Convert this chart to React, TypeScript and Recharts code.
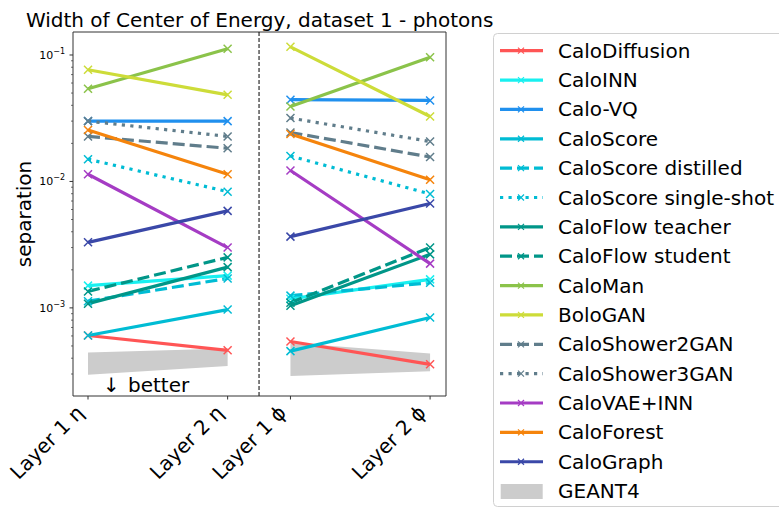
import React from "react";
import { ComposedChart, Line, Area, XAxis, YAxis, ReferenceLine } from "recharts";

// tick labels, one per column
const layers = ["Layer 1 η", "Layer 2 η", "Layer 1 ϕ", "Layer 2 ϕ"];

// separation per column: Layer 1 η, Layer 2 η, Layer 1 ϕ, Layer 2 ϕ
const caloDiffusion = [6.05e-4, 4.62e-4, 5.42e-4, 3.58e-4];
const caloINN = [1.5e-3, 1.8e-3, 1.18e-3, 1.68e-3];
const caloVQ = [3.0e-2, 3.0e-2, 4.43e-2, 4.37e-2];
const caloScore = [6.05e-4, 9.7e-4, 4.55e-4, 8.4e-4];
const caloScoreDistilled = [1.13e-3, 1.71e-3, 1.25e-3, 1.58e-3];
const caloScoreSingleShot = [1.5e-2, 8.3e-3, 1.59e-2, 7.96e-3];
const caloFlowTeacher = [1.08e-3, 2.1e-3, 1.04e-3, 2.65e-3];
const caloFlowStudent = [1.35e-3, 2.51e-3, 1.1e-3, 3.0e-3];
const caloMan = [5.4e-2, 1.12e-1, 3.92e-2, 9.6e-2];
const boloGAN = [7.65e-2, 4.84e-2, 1.16e-1, 3.26e-2];
const caloShower2GAN = [2.27e-2, 1.83e-2, 2.44e-2, 1.56e-2];
const caloShower3GAN = [3.0e-2, 2.27e-2, 3.17e-2, 2.07e-2];
const caloVAEINN = [1.14e-2, 3.0e-3, 1.22e-2, 2.24e-3];
const caloForest = [2.55e-2, 1.14e-2, 2.37e-2, 1.03e-2];
const caloGraph = [3.3e-3, 5.85e-3, 3.66e-3, 6.7e-3];
const geant4Low = [2.96e-4, 3.47e-4, 2.89e-4, 3.15e-4];
const geant4High = [4.43e-4, 4.77e-4, 5.3e-4, 4.35e-4];

const DASHED = "12 5";
const DOTTED = "3.2 5.3";

type Series = { name: string; values: number[]; color: string; dash?: string };

const series: Series[] = [
  { name: "CaloDiffusion", values: caloDiffusion, color: "#ff5555" },
  { name: "CaloINN", values: caloINN, color: "#18f0f0" },
  { name: "Calo-VQ", values: caloVQ, color: "#2090ee" },
  { name: "CaloScore", values: caloScore, color: "#00bcd4" },
  { name: "CaloScore distilled", values: caloScoreDistilled, color: "#00bcd4", dash: DASHED },
  { name: "CaloScore single-shot", values: caloScoreSingleShot, color: "#00bcd4", dash: DOTTED },
  { name: "CaloFlow teacher", values: caloFlowTeacher, color: "#009688" },
  { name: "CaloFlow student", values: caloFlowStudent, color: "#009688", dash: DASHED },
  { name: "CaloMan", values: caloMan, color: "#8bc34a" },
  { name: "BoloGAN", values: boloGAN, color: "#cddc39" },
  { name: "CaloShower2GAN", values: caloShower2GAN, color: "#607d8b", dash: DASHED },
  { name: "CaloShower3GAN", values: caloShower3GAN, color: "#607d8b", dash: DOTTED },
  { name: "CaloVAE+INN", values: caloVAEINN, color: "#a53cc4" },
  { name: "CaloForest", values: caloForest, color: "#f5840c" },
  { name: "CaloGraph", values: caloGraph, color: "#3a48a8" },
];

// layout of the x axis (two panels, split by a dashed line)
const layerX = [0, 1, 1.45, 2.45];
const SPLIT_X = 1.225;
const X_DOMAIN: [number, number] = [-0.1075, 2.564];
const Y_DOMAIN: [number, number] = [2.01e-4, 0.152];

const rows: any[] = [];
layers.forEach((_, i) => {
  if (i === 2) {
    const gap: any = { x: SPLIT_X, geant4: null };
    series.forEach((_s, k) => (gap[`s${k}`] = null));
    rows.push(gap);
  }
  const row: any = { x: layerX[i], geant4: [geant4Low[i], geant4High[i]] };
  series.forEach((s, k) => (row[`s${k}`] = s.values[i]));
  rows.push(row);
});

const yTicks: number[] = [];
for (let e = -4; e <= -1; e++) {
  for (let m = 1; m <= 9; m++) {
    const v = m * Math.pow(10, e);
    if (v >= Y_DOMAIN[0] && v <= Y_DOMAIN[1]) yTicks.push(v);
  }
}

const FONT = "'DejaVu Sans', sans-serif";
const AXIS = "#333";

const crossDot = (color: string) => (props: any) => {
  const { cx, cy, index } = props;
  if (cx == null || cy == null || isNaN(cx) || isNaN(cy)) return <g key={`n-${index}`} />;
  const r = 4;
  return (
    <path
      key={`d-${index}`}
      d={`M${cx - r},${cy - r}L${cx + r},${cy + r}M${cx - r},${cy + r}L${cx + r},${cy - r}`}
      stroke={color}
      strokeWidth={1.5}
      fill="none"
    />
  );
};

const XTick = (props: any) => {
  const { x, y, payload } = props;
  const idx = layerX.indexOf(payload.value);
  const ax = x - 3;
  const ay = y + 18;
  return (
    <g>
      <line x1={x} x2={x} y1={y} y2={y + 3.5} stroke={AXIS} strokeWidth={1} />
      <text
        x={ax}
        y={ay}
        textAnchor="end"
        transform={`rotate(-45 ${ax} ${ay})`}
        fontSize={20}
        fontFamily={FONT}
        fill="#000"
      >
        {layers[idx]}
      </text>
    </g>
  );
};

const YTick = (props: any) => {
  const { x, y, payload } = props;
  const lg = Math.log10(payload.value);
  const exp = Math.round(lg);
  const major = Math.abs(lg - exp) < 1e-6;
  return (
    <g>
      <line x1={x - (major ? 3.5 : 2)} x2={x} y1={y} y2={y} stroke={AXIS} strokeWidth={major ? 1 : 0.7} />
      {major && (
        <text x={x - 8} y={y + 4} textAnchor="end" fontSize={11} fontFamily={FONT} fill="#000">
          <tspan>10</tspan>
          <tspan dy={-5} fontSize={8}>{`−${-exp}`}</tspan>
        </text>
      )}
    </g>
  );
};

const LEG_X = 500;
const LEG_Y0 = 50.7;
const LEG_STEP = 29.36;

function LegendBox() {
  return (
    <g fontFamily={FONT}>
      <rect x={493.5} y={33.5} width={320} height={473} rx={4} fill="#fff" stroke="#d0d0d0" />
      {series.map((s, i) => {
        const cy = LEG_Y0 + i * LEG_STEP;
        const cx = LEG_X + 21;
        return (
          <g key={s.name}>
            <line x1={LEG_X} x2={LEG_X + 43} y1={cy} y2={cy} stroke={s.color} strokeWidth={3.2} strokeDasharray={s.dash} />
            <path d={`M${cx - 3},${cy - 3}L${cx + 3},${cy + 3}M${cx - 3},${cy + 3}L${cx + 3},${cy - 3}`} stroke={s.color} strokeWidth={1.2} />
            <text x={558} y={cy + 7} fontSize={20} fill="#000">{s.name}</text>
          </g>
        );
      })}
      <rect x={500.7} y={484} width={42} height={15} fill="#cccccc" />
      <text x={558} y={LEG_Y0 + 15 * LEG_STEP + 7} fontSize={20} fill="#000">GEANT4</text>
    </g>
  );
}

export default function App() {
  return (
    <div style={{ position: "absolute", left: 0, top: 0, width: 779, height: 509, background: "#fff", fontFamily: FONT }}>
      <ComposedChart width={779} height={509} data={rows} margin={{ top: 32, right: 333, bottom: 0, left: 0 }}>
        <XAxis
          dataKey="x"
          type="number"
          domain={X_DOMAIN}
          allowDataOverflow
          ticks={layerX}
          interval={0}
          height={113}
          tickSize={0}
          tickMargin={0}
          tickLine={false}
          stroke={AXIS}
          tick={<XTick />}
        />
        <YAxis
          type="number"
          scale="log"
          domain={Y_DOMAIN}
          allowDataOverflow
          ticks={yTicks}
          interval={0}
          width={73}
          tickSize={0}
          tickMargin={0}
          tickLine={false}
          stroke={AXIS}
          tick={<YTick />}
          label={{ value: "separation", angle: -90, position: "insideLeft", offset: 24, style: { fontSize: 20, fontFamily: FONT, fill: "#000", textAnchor: "middle" } }}
        />
        <ReferenceLine y={Y_DOMAIN[1]} stroke={AXIS} ifOverflow="extendDomain" />
        <ReferenceLine x={X_DOMAIN[1]} stroke={AXIS} />
        <ReferenceLine x={SPLIT_X} stroke="#000" strokeDasharray="4 2" />
        <Area
          dataKey="geant4"
          stroke="none"
          fill="#cccccc"
          fillOpacity={1}
          isAnimationActive={false}
          activeDot={false}
          dot={false}
        />
        {series.map((s, k) => (
          <Line
            key={s.name}
            dataKey={`s${k}`}
            stroke={s.color}
            strokeWidth={3.2}
            strokeDasharray={s.dash}
            dot={crossDot(s.color)}
            activeDot={false}
            isAnimationActive={false}
            type="linear"
          />
        ))}
      </ComposedChart>
      <svg width={779} height={509} style={{ position: "absolute", left: 0, top: 0, pointerEvents: "none" }}>
        <text x={259.7} y={26.7} textAnchor="middle" fontSize={20} fontFamily={FONT} fill="#000">
          Width of Center of Energy, dataset 1 - photons
        </text>
        <text x={103} y={391.5} fontSize={20} fontFamily={FONT} fill="#000">↓</text>
        <text x={128} y={391.5} fontSize={20} fontFamily={FONT} fill="#000">better</text>
        <LegendBox />
      </svg>
    </div>
  );
}
